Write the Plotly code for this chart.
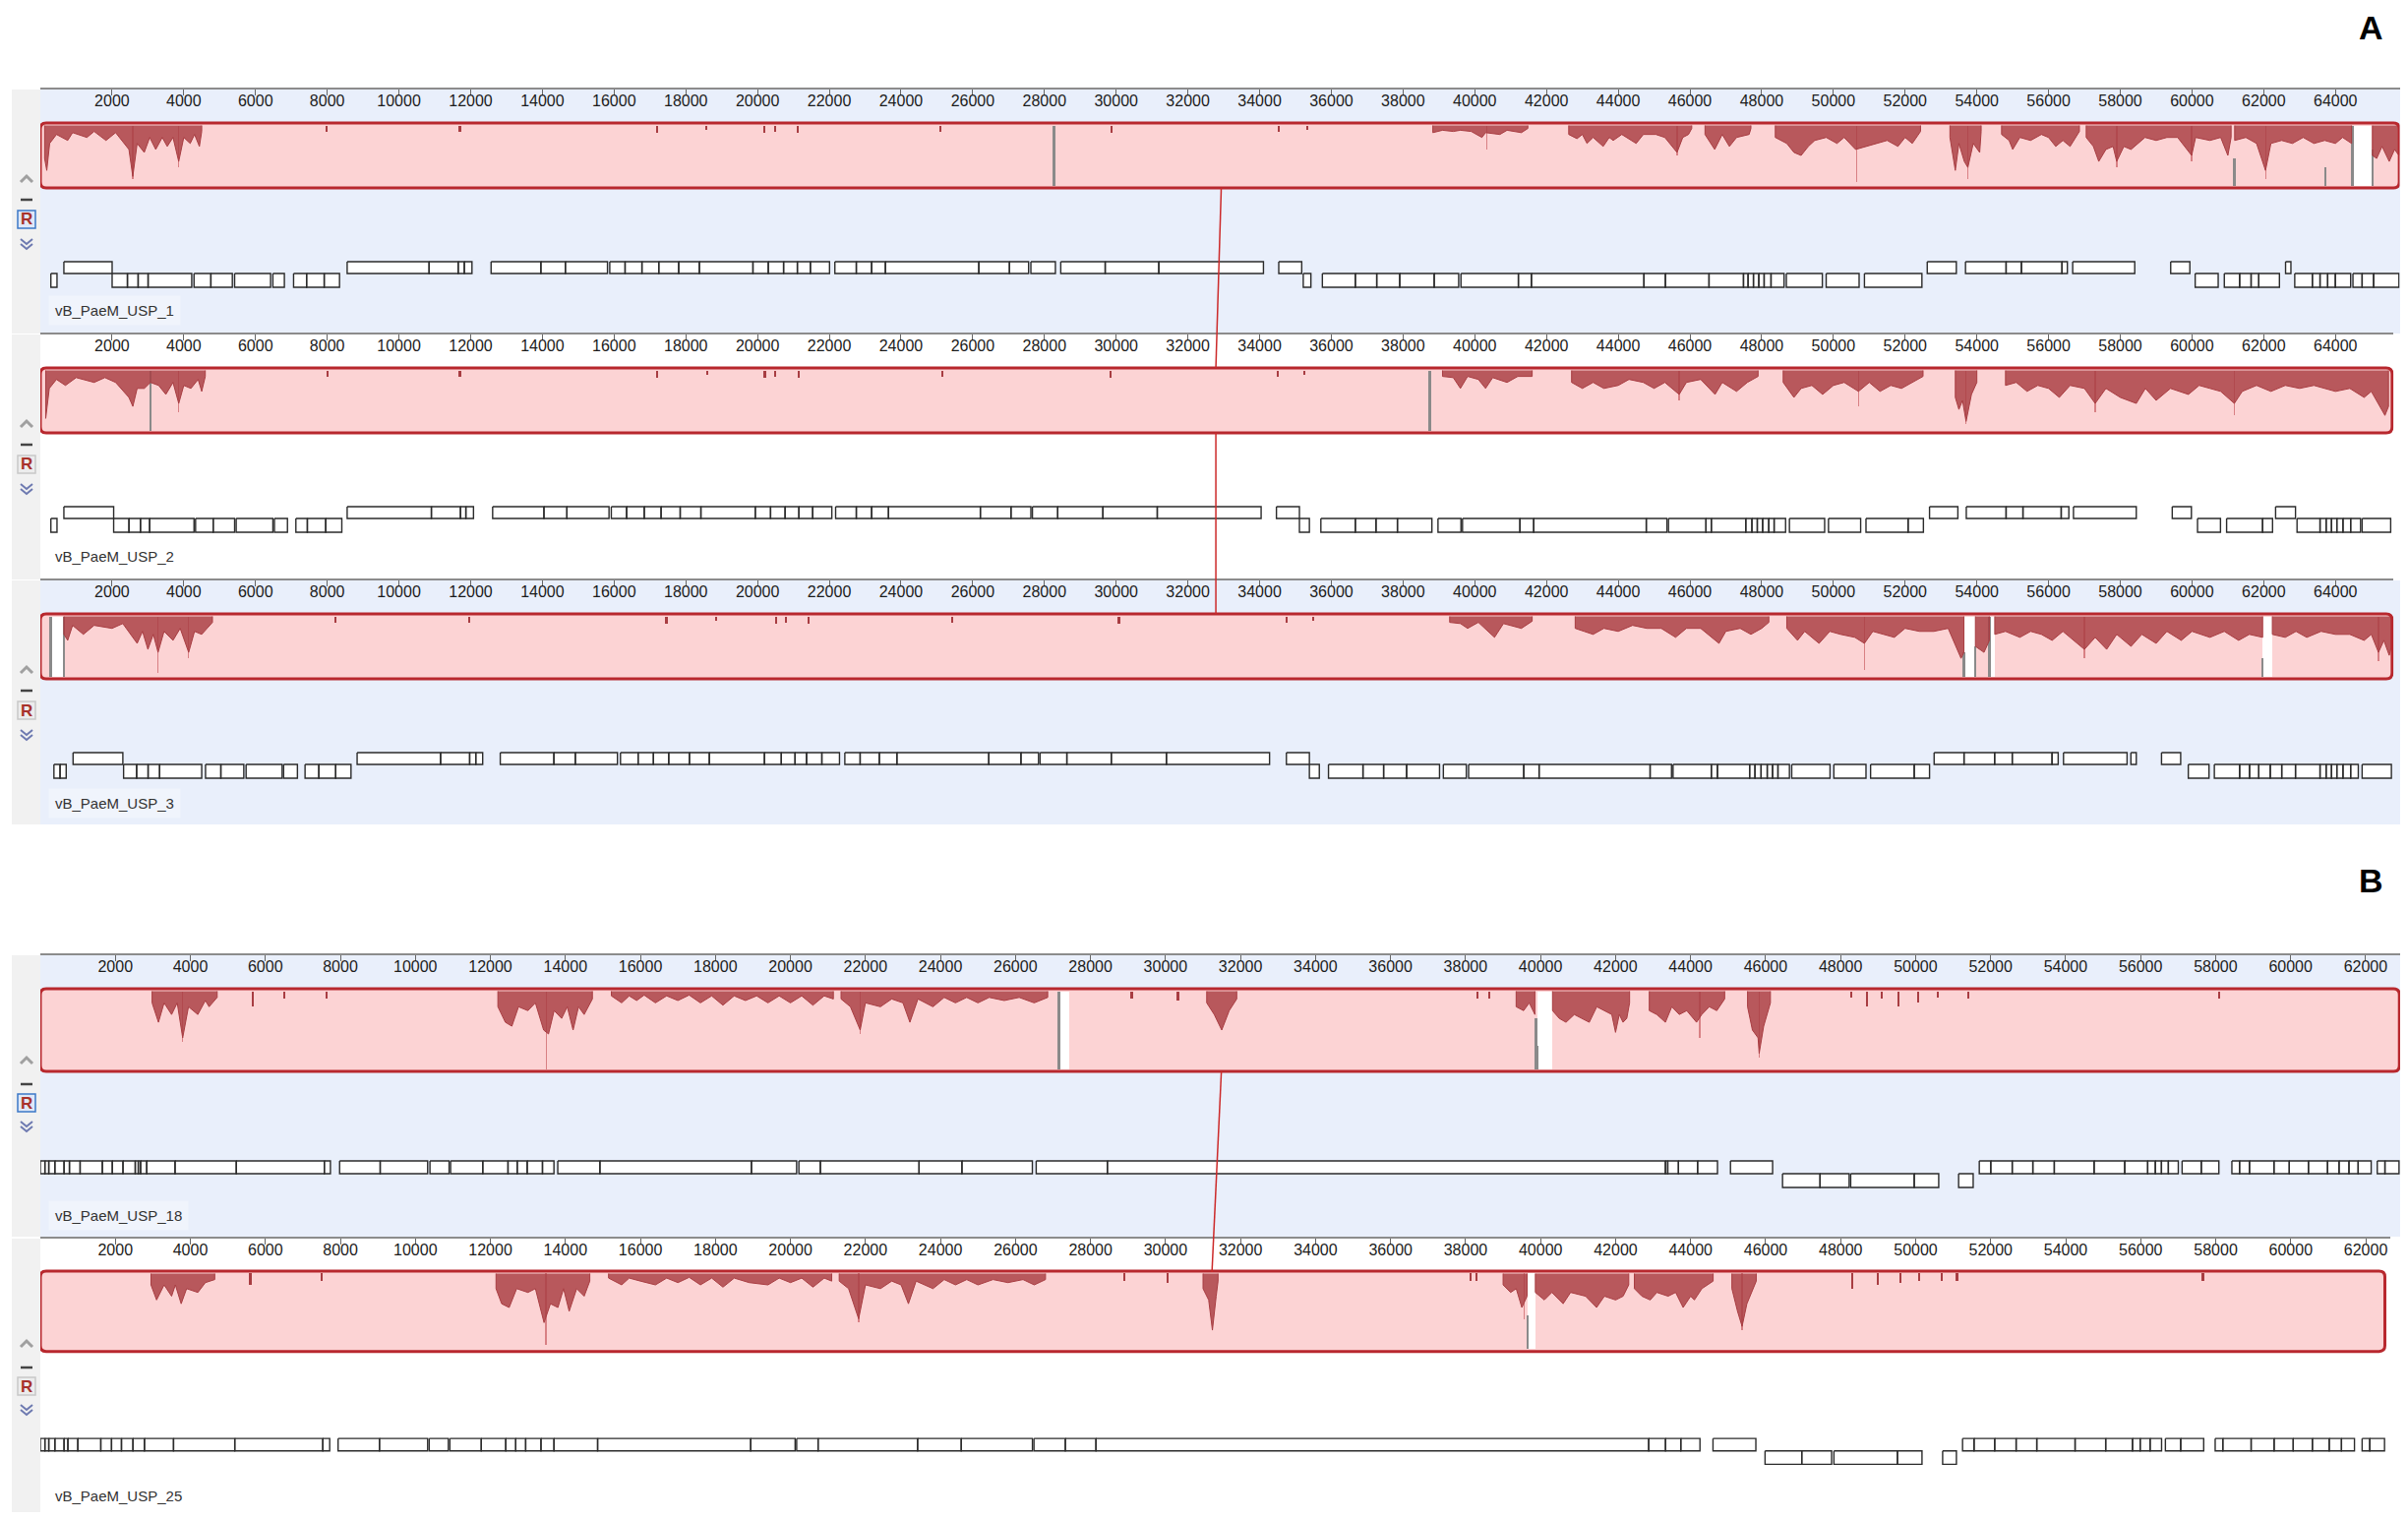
import plotly.graph_objects as go

# page body adds an 8 px margin, so the figure is a little smaller than the window
PAGE_W, PAGE_H = 2448, 1545
OFF = 8
W, H = PAGE_W - 2 * OFF, PAGE_H - 2 * OFF

# ---- data (positions in bp) ----
names = ["vB_PaeM_USP_1", "vB_PaeM_USP_2", "vB_PaeM_USP_3", "vB_PaeM_USP_18", "vB_PaeM_USP_25"]
block_end = [65780, 65580, 65580, 62900, 62510]
axis_end = [65790, 65620, 65620, 62920, 62660]
ticks_a = list(range(2000, 66000, 2000))
ticks_b = list(range(2000, 64000, 2000))

# genes: runs of adjacent boxes, given as boundaries
genes_top_1 = [[657, 2002], [8556, 10841, 11652, 11823, 12036], [12570, 13958, 14641, 15815],
               [15879, 16306, 16776, 17246, 17801, 18377, 19872, 20299, 20726, 21110, 21473, 22007],
               [22156, 22754, 23181, 23565, 26170, 27024, 27558], [27622, 28305],
               [28455, 29694, 31189, 34107], [34534, 35174], [52617, 53428],
               [53684, 54816, 55243, 56374, 56524], [56673, 58403], [59406, 59940], [62609, 62758]]
genes_bot_1 = [[294, 465], [2002, 2429, 2728, 3005, 4222], [4286, 4756, 5354], [5418, 6421],
               [6485, 6805], [7062, 7425, 7916, 8343], [35217, 35430],
               [35750, 36669, 37266, 37907, 38868, 39551],
               [39615, 41216, 41579, 44717, 45315, 46532, 47493, 47621, 47771, 47920, 48069, 48261, 48624],
               [48688, 49692], [49799, 50717], [50866, 52468], [60089, 60730],
               [60901, 61328, 61648, 61862, 62438], [62865, 63356, 63570, 63783, 63997, 64424],
               [64488, 64744, 65064, 65770]]

genes_top_2 = [[657, 2045], [8556, 10905, 11716, 11866, 12079], [12613, 14043, 14684, 15858],
               [15922, 16349, 16840, 17310, 17843, 18420, 19936, 20363, 20768, 21153, 21537, 22071],
               [22177, 22754, 23181, 23651, 26213, 27067, 27622],
               [27665, 28370, 29630, 31146, 34042], [34469, 35110], [52681, 53471],
               [53706, 54816, 55286, 56353, 56566], [56695, 58446], [59449, 59983], [62331, 62886]]
genes_bot_2 = [[294, 465], [2045, 2472, 2792, 3048, 4286], [4329, 4820, 5418], [5461, 6485],
               [6528, 6891], [7126, 7446, 7958, 8407], [35110, 35388],
               [35708, 36669, 37245, 37843, 38804], [38974, 39615],
               [39658, 41259, 41643, 44782, 45358],
               [45401, 46447, 46596, 47557, 47728, 47878, 48027, 48198, 48347, 48667],
               [48774, 49756], [49863, 50760], [50909, 52083, 52510], [60154, 60794],
               [60965, 61968, 62246], [62929, 63570, 63740, 63890, 64039, 64210, 64424, 64701],
               [64744, 65540]]

genes_top_3 = [[913, 2301], [8834, 11161, 11972, 12143, 12335], [12826, 14321, 14918, 16093],
               [16178, 16669, 17096, 17523, 18100, 18655, 20192, 20662, 21046, 21366, 21793, 22285],
               [22434, 22861, 23395, 23886, 26448, 27345, 27835],
               [27878, 28625, 29864, 31401, 34277], [34747, 35388],
               [52809, 53642, 54496, 54987, 56097, 56268], [56417, 58189], [58296, 58446],
               [59150, 59684]]
genes_bot_3 = [[379, 550, 721], [2322, 2685, 3005, 3326, 4500], [4607, 5034, 5674], [5738, 6742],
               [6784, 7169], [7382, 7766, 8236, 8663], [35388, 35665],
               [35921, 36882, 37458, 38099, 39017], [39124, 39764],
               [39828, 41366, 41793, 44889, 45486],
               [45529, 46596, 46767, 47664, 47813, 47984, 48155, 48304, 48454, 48774],
               [48838, 49906], [50012, 50909], [51037, 52254, 52681], [59897, 60474],
               [60623, 61328, 61605, 61862, 62182, 62502, 62886, 63570, 63740, 63890, 64039,
                64210, 64424, 64637],
               [64744, 65560]]

genes_top_18 = [[0, 122, 225, 388, 633, 776, 1061, 1653, 1919, 2204, 2531, 2612, 2674, 2837,
                 3592, 5225, 7572, 7735],
                [7980, 9062, 10327], [10389, 10899], [10940, 11797, 12470, 12715, 12981, 13389, 13695],
                [13797, 14920, 18960, 20165], [20226, 20798, 23430, 24573, 26451],
                [26553, 28451, 43330, 43392, 43677, 44188, 44718], [45065, 46188],
                [51699, 52005, 52577, 53127, 53699, 54760, 55577, 56189, 56393, 56556, 56740, 57005],
                [57107, 57618, 58087],
                [58434, 58638, 58903, 59556, 59964, 60475, 60985, 61291, 61556, 61801, 62148],
                [62311, 62515, 62890]]
genes_bot_18 = [[46453, 47453, 48229], [48270, 49964, 50617], [51148, 51536]]

genes_top_25 = [[0, 122, 225, 388, 633, 735, 1000, 1612, 1898, 2163, 2470, 2776, 3551, 5184,
                 7531, 7715],
                [7939, 9042, 10327], [10368, 10878],
                [10919, 11756, 12409, 12675, 12940, 13348, 13695, 14858, 18940, 20124],
                [20165, 20736, 23390, 24553, 26451],
                [26492, 27328, 28145, 42882, 43330, 43738, 44249], [44596, 45739],
                [51250, 51556, 52107, 52678, 53229, 54250, 55066, 55781, 55985, 56250, 56556],
                [56658, 57066, 57679],
                [57985, 58189, 58944, 59556, 60066, 60577, 61026, 61352, 61699],
                [61903, 62107, 62500]]
genes_bot_25 = [[45984, 46963, 47759], [47820, 49514, 50168], [50719, 51086]]

# similarity profile: variable regions as [bp, depth] points of the dark edge,
# thin spikes [bp, depth] and faint deep hairs [bp, depth]
profile_1 = [
    [[120, 0.55], [180, 0.75], [260, 0.3], [450, 0.15], [763, 0.25], [900, 0.12], [1300, 0.2],
     [1500, 0.1], [1831, 0.25], [2100, 0.12], [2471, 0.4], [2578, 0.85], [2700, 0.3],
     [2898, 0.45], [3050, 0.2], [3218, 0.4], [3400, 0.2], [3539, 0.35], [3700, 0.2],
     [3859, 0.6], [4000, 0.2], [4180, 0.3], [4300, 0.15], [4436, 0.35], [4500, 0.1]],
    [[38830, 0.12], [39100, 0.08], [39400, 0.1], [39600, 0.08], [39900, 0.1], [40200, 0.2],
     [40300, 0.12], [40700, 0.15], [40900, 0.08], [41300, 0.12], [41480, 0.05]],
    [[42620, 0.15], [42850, 0.22], [43000, 0.15], [43130, 0.3], [43300, 0.2], [43580, 0.35],
     [43750, 0.2], [43860, 0.25], [44100, 0.15], [44500, 0.3], [44700, 0.15], [45050, 0.15],
     [45300, 0.2], [45640, 0.45], [45800, 0.2], [45960, 0.15], [46050, 0.05]],
    [[46420, 0.15], [46690, 0.4], [46900, 0.15], [47100, 0.35], [47300, 0.2], [47650, 0.15],
     [47700, 0.05]],
    [[48380, 0.2], [48700, 0.3], [48900, 0.45], [49100, 0.5], [49300, 0.35], [49480, 0.25],
     [49800, 0.2], [50100, 0.3], [50300, 0.2], [50620, 0.4], [50900, 0.35], [51200, 0.3],
     [51500, 0.25], [51800, 0.35], [52000, 0.2], [52200, 0.3], [52430, 0.1]],
    [[53250, 0.2], [53400, 0.75], [53500, 0.3], [53650, 0.6], [53750, 0.7], [53900, 0.3],
     [54080, 0.45], [54120, 0.1]],
    [[54690, 0.15], [54900, 0.25], [55000, 0.4], [55200, 0.2], [55500, 0.25], [55800, 0.15],
     [56000, 0.2], [56200, 0.35], [56400, 0.25], [56600, 0.35], [56860, 0.1]],
    [[57050, 0.2], [57250, 0.35], [57400, 0.6], [57600, 0.4], [57800, 0.35], [57900, 0.6],
     [58100, 0.35], [58300, 0.4], [58690, 0.2], [59000, 0.25], [59300, 0.2], [59600, 0.2],
     [59990, 0.5], [60100, 0.2], [60500, 0.25], [60800, 0.2], [61000, 0.5], [61090, 0.2]],
    [[61190, 0.25], [61500, 0.2], [61800, 0.3], [62050, 0.75], [62200, 0.3], [62500, 0.25],
     [62800, 0.3], [63100, 0.2], [63400, 0.3], [63700, 0.25], [64000, 0.3], [64200, 0.2],
     [64450, 0.3]],
    [[65030, 0.5], [65150, 0.55], [65300, 0.35], [65500, 0.6], [65650, 0.4], [65770, 0.5]]]
spikes_1 = [[7980, 0.1], [11700, 0.1], [17200, 0.12], [18570, 0.08], [20190, 0.12],
            [20500, 0.1], [21110, 0.12], [25100, 0.1], [29860, 0.12], [34530, 0.1], [35320, 0.08]]
hairs_1 = [[2578, 0.9], [3859, 0.7], [40340, 0.4], [45640, 0.5], [50652, 0.95], [53750, 0.9],
           [57900, 0.7], [59990, 0.6], [62050, 0.9]]
grey_1 = [[28260, 0.0], [61180, 0.55], [63720, 0.7], [64470, 0.0], [65030, 0.4]]
gaps_1 = [[64490, 65020]]

profile_2 = [
    [[150, 0.8], [250, 0.3], [450, 0.15], [700, 0.25], [1000, 0.12], [1500, 0.2], [1800, 0.12],
     [2100, 0.2], [2470, 0.45], [2580, 0.6], [2700, 0.3], [2900, 0.3], [3069, 0.2], [3300, 0.25],
     [3500, 0.4], [3700, 0.2], [3860, 0.55], [4000, 0.25], [4200, 0.3], [4400, 0.15],
     [4500, 0.35], [4600, 0.1]],
    [[39100, 0.1], [39400, 0.12], [39600, 0.3], [39800, 0.1], [40100, 0.15], [40300, 0.3],
     [40500, 0.12], [40900, 0.2], [41200, 0.1], [41600, 0.1]],
    [[42700, 0.2], [43000, 0.3], [43300, 0.2], [43600, 0.3], [44000, 0.25], [44300, 0.15],
     [44700, 0.2], [45000, 0.3], [45300, 0.2], [45700, 0.4], [45900, 0.2], [46300, 0.15],
     [46700, 0.4], [46900, 0.2], [47300, 0.35], [47600, 0.2], [47900, 0.1]],
    [[48600, 0.2], [48900, 0.45], [49100, 0.3], [49400, 0.25], [49700, 0.4], [50000, 0.25],
     [50300, 0.2], [50700, 0.35], [51000, 0.2], [51300, 0.35], [51600, 0.25], [51900, 0.3],
     [52200, 0.2], [52500, 0.1]],
    [[53400, 0.45], [53500, 0.65], [53600, 0.5], [53700, 0.85], [53850, 0.4], [54000, 0.2]],
    [[54800, 0.25], [55100, 0.2], [55400, 0.35], [55700, 0.25], [56000, 0.3], [56300, 0.45],
     [56600, 0.25], [57000, 0.3], [57300, 0.55], [57600, 0.3], [58000, 0.45], [58446, 0.55],
     [58700, 0.3], [59000, 0.5], [59400, 0.3], [59900, 0.4], [60200, 0.25], [60500, 0.3],
     [60800, 0.35], [61180, 0.55], [61400, 0.35], [61800, 0.25], [62200, 0.35], [62600, 0.25],
     [63000, 0.3], [63400, 0.25], [64000, 0.35], [64400, 0.3], [64800, 0.45], [65000, 0.35],
     [65300, 0.65], [65380, 0.75], [65480, 0.6]]]
spikes_2 = [[8000, 0.1], [11700, 0.1], [17200, 0.12], [18600, 0.08], [20200, 0.12],
            [20500, 0.1], [21150, 0.12], [25150, 0.1], [29850, 0.12], [34500, 0.1], [35250, 0.08]]
hairs_2 = [[3860, 0.7], [45700, 0.5], [50700, 0.6], [53700, 0.9], [57300, 0.7], [61180, 0.75]]
grey_2 = [[3069, 0.0], [38740, 0.0]]
gaps_2 = []

profile_3 = [
    [[657, 0.3], [763, 0.4], [900, 0.15], [1200, 0.3], [1500, 0.15], [2000, 0.2], [2300, 0.12],
     [2700, 0.45], [2850, 0.25], [3000, 0.55], [3150, 0.3], [3283, 0.6], [3450, 0.25],
     [3700, 0.4], [3900, 0.2], [4137, 0.6], [4300, 0.25], [4500, 0.3], [4800, 0.1]],
    [[39300, 0.1], [39600, 0.12], [39800, 0.2], [40100, 0.1], [40550, 0.35], [40800, 0.12],
     [41300, 0.2], [41600, 0.08]],
    [[42800, 0.2], [43050, 0.25], [43300, 0.3], [43600, 0.2], [44000, 0.25], [44400, 0.15],
     [44800, 0.2], [45200, 0.2], [45600, 0.35], [45900, 0.2], [46300, 0.2], [46810, 0.45],
     [47000, 0.25], [47400, 0.2], [47700, 0.3], [48000, 0.2], [48200, 0.1]],
    [[48700, 0.2], [49000, 0.4], [49200, 0.25], [49600, 0.45], [49900, 0.25], [50200, 0.3],
     [50600, 0.35], [50865, 0.45], [51100, 0.25], [51400, 0.3], [51700, 0.35], [52000, 0.2],
     [52400, 0.25], [52800, 0.25], [53200, 0.2], [53560, 0.7], [53640, 0.6]],
    [[53960, 0.5], [54200, 0.6], [54350, 0.4]],
    [[54500, 0.3], [54800, 0.25], [55200, 0.35], [55500, 0.25], [55800, 0.3], [56100, 0.4],
     [56400, 0.25], [57000, 0.55], [57300, 0.35], [57620, 0.55], [57900, 0.3], [58300, 0.5],
     [58600, 0.3], [59000, 0.45], [59300, 0.25], [59700, 0.4], [60000, 0.25], [60500, 0.35],
     [60900, 0.25], [61300, 0.4], [61600, 0.3], [61970, 0.35]],
    [[62240, 0.3], [62600, 0.35], [62900, 0.25], [63200, 0.35], [63600, 0.25], [64000, 0.3],
     [64400, 0.3], [64800, 0.4], [65000, 0.3], [65200, 0.6], [65350, 0.4], [65500, 0.65],
     [65560, 0.5]]]
spikes_3 = [[8236, 0.1], [11970, 0.1], [17460, 0.12], [18846, 0.08], [20510, 0.12],
            [20800, 0.1], [21430, 0.12], [25420, 0.1], [30075, 0.12], [34747, 0.1], [35500, 0.08]]
hairs_3 = [[3283, 0.95], [4137, 0.7], [50865, 0.9], [57000, 0.7], [65200, 0.75]]
grey_3 = [[294, 0.0], [657, 0.0], [53640, 0.6], [53960, 0.5], [54350, 0.0], [61970, 0.7]]
gaps_3 = [[294, 657], [53640, 53960], [54350, 54500], [61970, 62240]]

profile_18 = [
    [[2980, 0.15], [3150, 0.4], [3300, 0.15], [3500, 0.3], [3650, 0.15], [3796, 0.6],
     [3950, 0.2], [4200, 0.3], [4400, 0.12], [4500, 0.2], [4715, 0.08]],
    [[12200, 0.2], [12400, 0.4], [12573, 0.45], [12750, 0.2], [13000, 0.25], [13200, 0.15],
     [13420, 0.5], [13550, 0.55], [13700, 0.25], [13900, 0.35], [14050, 0.2], [14205, 0.5],
     [14350, 0.2], [14500, 0.3], [14720, 0.1]],
    [[15225, 0.06], [15500, 0.15], [15700, 0.06], [15900, 0.12], [16100, 0.05], [16400, 0.15],
     [16700, 0.06], [17000, 0.12], [17300, 0.05], [17600, 0.15], [17900, 0.06], [18200, 0.18],
     [18500, 0.06], [18800, 0.12], [19100, 0.06], [19400, 0.15], [19700, 0.06], [20000, 0.15],
     [20300, 0.06], [20600, 0.18], [20900, 0.06], [21145, 0.1]],
    [[21350, 0.1], [21600, 0.2], [21860, 0.5], [22000, 0.15], [22400, 0.2], [22700, 0.1],
     [23000, 0.15], [23186, 0.4], [23400, 0.1], [23800, 0.2], [24100, 0.08], [24400, 0.15],
     [24700, 0.08], [25000, 0.15], [25300, 0.08], [25700, 0.12], [26100, 0.08], [26500, 0.15],
     [26860, 0.08]],
    [[31100, 0.15], [31300, 0.3], [31500, 0.5], [31700, 0.25], [31900, 0.1]],
    [[39350, 0.2], [39550, 0.25], [39700, 0.15], [39850, 0.3]],
    [[40320, 0.25], [40500, 0.35], [40680, 0.4], [40900, 0.3], [41100, 0.35], [41300, 0.4],
     [41500, 0.2], [41900, 0.3], [42000, 0.53], [42100, 0.3], [42200, 0.4], [42300, 0.35],
     [42375, 0.15]],
    [[42900, 0.25], [43100, 0.3], [43330, 0.4], [43500, 0.2], [43700, 0.3], [43900, 0.25],
     [44160, 0.4], [44300, 0.3], [44500, 0.2], [44700, 0.25], [44910, 0.1]],
    [[45520, 0.2], [45650, 0.5], [45800, 0.6], [45830, 0.8], [45950, 0.45], [46130, 0.15]]]
spikes_18 = [[5670, 0.2], [6510, 0.1], [7630, 0.1], [29100, 0.1], [30330, 0.12], [38310, 0.1],
             [38630, 0.1], [48280, 0.08], [48710, 0.2], [49100, 0.1], [49540, 0.2],
             [50070, 0.15], [50590, 0.08], [51400, 0.1], [58090, 0.1]]
hairs_18 = [[3796, 0.65], [13491, 1.0], [21860, 0.55], [44249, 0.6], [45830, 0.85]]
grey_18 = [[27165, 0.0], [39880, 0.35], [39920, 0.7]]
gaps_18 = [[27165, 27430], [39930, 40300]]

profile_25 = [
    [[2950, 0.15], [3100, 0.35], [3300, 0.15], [3500, 0.3], [3600, 0.15], [3755, 0.4],
     [3900, 0.2], [4200, 0.25], [4400, 0.12], [4650, 0.08]],
    [[12150, 0.2], [12300, 0.4], [12500, 0.45], [12700, 0.2], [13000, 0.25], [13200, 0.2],
     [13430, 0.65], [13600, 0.4], [13800, 0.45], [13950, 0.2], [14100, 0.5], [14300, 0.2],
     [14500, 0.3], [14650, 0.1]],
    [[15150, 0.06], [15500, 0.15], [15700, 0.06], [16000, 0.1], [16400, 0.15], [16700, 0.06],
     [17000, 0.12], [17300, 0.05], [17600, 0.15], [17900, 0.06], [18200, 0.18], [18500, 0.06],
     [18900, 0.12], [19400, 0.15], [19700, 0.06], [20000, 0.12], [20300, 0.06], [20600, 0.18],
     [20900, 0.06], [21100, 0.1]],
    [[21300, 0.1], [21550, 0.2], [21818, 0.6], [22000, 0.15], [22400, 0.2], [22700, 0.1],
     [22950, 0.15], [23145, 0.4], [23350, 0.1], [23800, 0.2], [24100, 0.08], [24400, 0.15],
     [24700, 0.08], [25000, 0.15], [25400, 0.08], [25800, 0.12], [26200, 0.08], [26500, 0.15],
     [26800, 0.08]],
    [[31000, 0.2], [31150, 0.35], [31250, 0.75], [31350, 0.3], [31400, 0.1]],
    [[39000, 0.15], [39200, 0.25], [39350, 0.2], [39500, 0.45], [39640, 0.3]],
    [[39860, 0.25], [40100, 0.35], [40300, 0.25], [40600, 0.4], [40800, 0.25], [41200, 0.3],
     [41493, 0.45], [41700, 0.3], [42000, 0.35], [42200, 0.3], [42350, 0.15]],
    [[42500, 0.2], [42700, 0.3], [42923, 0.35], [43100, 0.25], [43400, 0.3], [43600, 0.25],
     [43800, 0.45], [44000, 0.3], [44100, 0.35], [44300, 0.2], [44600, 0.1]],
    [[45100, 0.2], [45250, 0.5], [45372, 0.7], [45500, 0.4], [45750, 0.1]]]
spikes_25 = [[5600, 0.15], [7500, 0.1], [28900, 0.1], [30050, 0.12], [38126, 0.1], [38300, 0.1],
             [48300, 0.2], [49000, 0.15], [49600, 0.12], [50100, 0.1], [50700, 0.1],
             [51100, 0.1], [57658, 0.1]]
hairs_25 = [[13480, 0.95], [21818, 0.65], [39555, 0.6], [45372, 0.75]]
grey_25 = [[39650, 0.55]]
gaps_25 = [[39650, 39860]]

# homologous anchor joined by the red line in each panel
link_a = [32930, 32780, 32780]
link_b = [31490, 31240]

genes_top = [genes_top_1, genes_top_2, genes_top_3, genes_top_18, genes_top_25]
genes_bot = [genes_bot_1, genes_bot_2, genes_bot_3, genes_bot_18, genes_bot_25]
profiles = [profile_1, profile_2, profile_3, profile_18, profile_25]
spikes = [spikes_1, spikes_2, spikes_3, spikes_18, spikes_25]
hairs = [hairs_1, hairs_2, hairs_3, hairs_18, hairs_25]
greys = [grey_1, grey_2, grey_3, grey_18, grey_25]
gaps = [gaps_1, gaps_2, gaps_3, gaps_18, gaps_25]

# ---- layout (pixels of the 2448x1545 page) ----
X0 = 41
scale = [0.036457, 0.036457, 0.036457, 0.03813, 0.03813]   # px per bp
axis_y = [91, 340, 590, 971, 1259]
bottom_y = [339, 589, 838, 1257, 1545]
bg = ["#e9effb", "#ffffff", "#e9effb", "#e9effb", "#ffffff"]
block = [(34, 100)] * 3 + [(34, 118)] * 2
gene_rows = [(175, 187, 201)] * 3 + [(209, 222, 236)] * 2
label_off = [225, 225, 226, 264, 261]
icon_off = [(90, 112, 132, 156)] * 3 + [(106, 131, 150, 173)] * 2
r_selected = [True, False, False, True, False]

PINK = "#fcd3d4"
PROF = "#a83d42"
PROF_FILL = "rgba(168, 61, 66, 0.82)"
HAIR = "rgba(185, 60, 66, 0.55)"
RIM = "#b8282e"
GREY = "#8a8a8a"
FONT = "Liberation Sans, Arial"

fig = go.Figure()
shapes, annos = [], []
lay = {}


def px(x):
    return min(1.0, max(0.0, (x - OFF) / W))


def py(y):
    return min(1.0, max(0.0, 1 - (y - OFF) / H))


def rounded(x0, x1, y0, y1, rx, ry):
    return (f"M {x0 + rx},{y0} L {x1 - rx},{y0} Q {x1},{y0} {x1},{y0 + ry} "
            f"L {x1},{y1 - ry} Q {x1},{y1} {x1 - rx},{y1} L {x0 + rx},{y1} "
            f"Q {x0},{y1} {x0},{y1 - ry} L {x0},{y0 + ry} Q {x0},{y0} {x0 + rx},{y0} Z")


def bar(x, y, width, base, color, xa, ya):
    return go.Bar(x=x, y=y, width=width, base=base, marker_color=color, marker_line_width=0,
                  xaxis=xa, yaxis=ya, showlegend=False, hoverinfo="skip")


for i in range(5):
    k = "" if i == 0 else str(i + 1)
    xa, ya = "x" + k, "y" + k
    L = block_end[i]
    s = scale[i]
    top, bot = axis_y[i], bottom_y[i]
    b0, b1 = block[i]
    hgt = b1 - b0 - 5
    top_in = b0 + 2.5
    tv = ticks_a if i < 3 else ticks_b

    # background + left strip
    shapes.append(dict(type="rect", xref="paper", yref="paper", x0=px(X0), x1=1.01,
                       y0=py(bot), y1=py(top), fillcolor=bg[i], line_width=0, layer="below"))
    shapes.append(dict(type="rect", xref="paper", yref="paper", x0=px(12), x1=px(X0),
                       y0=py(bot), y1=py(top), fillcolor="#f1f1f1", line_width=0, layer="below"))

    lay["xaxis" + k] = dict(domain=[px(X0), px(X0 + axis_end[i] * s)], range=[0, axis_end[i]],
                            anchor=ya, side="top", showline=True, linecolor="#8c8c8c",
                            linewidth=2, ticks="inside", ticklen=6, tickcolor="#666",
                            tickwidth=1, ticklabelposition="inside", tickmode="array",
                            tickvals=tv, ticktext=[str(v) for v in tv],
                            tickfont=dict(family=FONT, size=16, color="#1c1c1c"),
                            showgrid=False, zeroline=False, fixedrange=True)
    lay["yaxis" + k] = dict(domain=[py(bot), py(top)], range=[bot - top, 0],
                            anchor=xa, visible=False, fixedrange=True)

    # alignment block
    path = rounded(0, L, b0, b1, 6 / s, 6)
    shapes.append(dict(type="path", xref=xa, yref=ya, path=path, fillcolor=PINK,
                       line_width=0, layer="below"))

    # faint deep hairs, then the dark similarity profile hanging from the top
    fig.add_trace(bar([p for p, d in hairs[i]], [d * hgt for p, d in hairs[i]],
                      1.3 / s, top_in, HAIR, xa, ya))
    pxs, pys = [], []
    for reg in profiles[i]:
        pxs += [reg[0][0]] + [p for p, d in reg] + [reg[-1][0], None]
        pys += [top_in] + [top_in + d * hgt for p, d in reg] + [top_in, None]
    fig.add_trace(go.Scatter(x=pxs, y=pys, mode="lines", fill="toself", fillcolor=PROF_FILL,
                             line=dict(color=PROF, width=1), xaxis=xa, yaxis=ya,
                             showlegend=False, hoverinfo="skip"))
    fig.add_trace(bar([p for p, d in spikes[i]], [d * hgt for p, d in spikes[i]],
                      2.2 / s, top_in, PROF, xa, ya))
    # white gaps and grey gap edges
    if gaps[i]:
        fig.add_trace(bar([(a + b) / 2 for a, b in gaps[i]], [hgt] * len(gaps[i]),
                          [b - a for a, b in gaps[i]], top_in, "white", xa, ya))
    fig.add_trace(bar([p for p, f in greys[i]], [(1 - f) * hgt for p, f in greys[i]],
                      2.5 / s, [top_in + f * hgt for p, f in greys[i]], GREY, xa, ya))

    shapes.append(dict(type="path", xref=xa, yref=ya, path=path, fillcolor="rgba(0,0,0,0)",
                       line=dict(color=RIM, width=3), layer="above"))

    # genes
    r0, r1, r2 = gene_rows[i]
    for runs, (ya0, ya1) in ((genes_top[i], (r0, r1)), (genes_bot[i], (r1, r2))):
        gxs, gys = [], []
        for run in runs:
            for a, b in zip(run[:-1], run[1:]):
                gxs += [a, b, b, a, a, None]
                gys += [ya0, ya0, ya1, ya1, ya0, None]
        fig.add_trace(go.Scatter(x=gxs, y=gys, mode="lines", fill="toself", fillcolor="white",
                                 line=dict(color="#2b2b2b", width=1.4), xaxis=xa, yaxis=ya,
                                 showlegend=False, hoverinfo="skip"))

    # genome label
    annos.append(dict(x=px(X0 + 8), y=py(top + label_off[i]), xref="paper", yref="paper",
                      text=names[i], showarrow=False, xanchor="left", yanchor="middle",
                      font=dict(family=FONT, size=15, color="#333"),
                      bgcolor="rgba(255,255,255,0.35)", borderpad=6))

    # control icons
    u, m, r, d = icon_off[i]
    cx = 27
    shapes.append(dict(type="path", xref="paper", yref="paper",
                       path=f"M {px(cx - 6)},{py(top + u + 4)} L {px(cx)},{py(top + u - 2)} L {px(cx + 6)},{py(top + u + 4)}",
                       line=dict(color="#a0a0a0", width=3)))
    shapes.append(dict(type="line", xref="paper", yref="paper", x0=px(cx - 6), x1=px(cx + 6),
                       y0=py(top + m), y1=py(top + m), line=dict(color="#444", width=2.5)))
    shapes.append(dict(type="rect", xref="paper", yref="paper", x0=px(cx - 9), x1=px(cx + 9),
                       y0=py(top + r + 9), y1=py(top + r - 9),
                       fillcolor="#dfe8f7" if r_selected[i] else "#ececec",
                       line=dict(color="#3c78c8" if r_selected[i] else "#c8c8c8", width=1.5)))
    annos.append(dict(x=px(cx), y=py(top + r), xref="paper", yref="paper", text="<b>R</b>",
                      showarrow=False, xanchor="center", yanchor="middle",
                      font=dict(family=FONT, size=17, color="#a8322c")))
    for o in (0, 5):
        shapes.append(dict(type="path", xref="paper", yref="paper",
                           path=f"M {px(cx - 6)},{py(top + d - 4 + o)} L {px(cx)},{py(top + d + 1 + o)} L {px(cx + 6)},{py(top + d - 4 + o)}",
                           line=dict(color="#6d79b0", width=2)))

# red lines joining homologous positions between neighbouring genomes
for idx, anchors, xa in (([0, 1, 2], link_a, "x"), ([3, 4], link_b, "x4")):
    for j in range(len(idx) - 1):
        a, b = idx[j], idx[j + 1]
        shapes.append(dict(type="line", xref=xa, yref="paper", x0=anchors[j], x1=anchors[j + 1],
                           y0=py(axis_y[a] + block[a][1]), y1=py(axis_y[b] + block[b][0]),
                           line=dict(color="#cc2a2a", width=1.5), layer="above"))

for txt, yy in (("A", 28), ("B", 895)):
    annos.append(dict(x=px(2410), y=py(yy), xref="paper", yref="paper", text=f"<b>{txt}</b>",
                      showarrow=False, xanchor="center", yanchor="middle",
                      font=dict(family=FONT, size=34, color="black")))

fig.update_layout(width=W, height=H, margin=dict(l=0, r=0, t=0, b=0),
                  paper_bgcolor="white", plot_bgcolor="rgba(0,0,0,0)",
                  barmode="overlay", bargap=0, shapes=shapes, annotations=annos, **lay)

fig.write_html("out.html")
